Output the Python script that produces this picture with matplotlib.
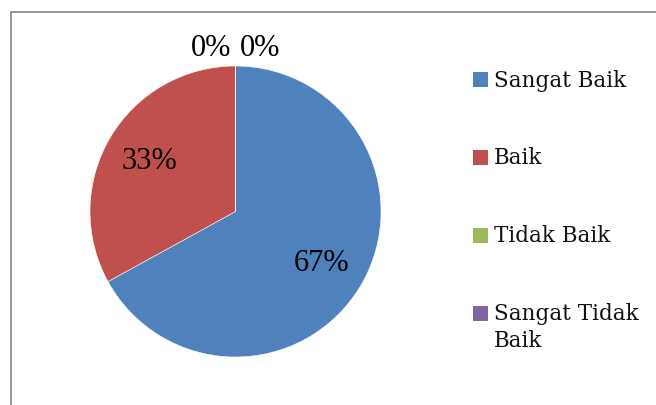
import matplotlib
matplotlib.use("Agg")
import matplotlib.pyplot as plt
from matplotlib.patches import Rectangle
import textwrap

categories = ["Sangat Baik", "Baik", "Tidak Baik", "Sangat Tidak Baik"]
values = [67, 33, 0, 0]
colors = ["#4F81BD", "#C0504D", "#9BBB59", "#8064A2"]

W, H = 656, 406
fig = plt.figure(figsize=(W / 100, H / 100), dpi=100)

# pie axes: center (235.5, 212.5) px from top, radius 145.5 px
R = 145.5
cx, cy = 235.5, H - 212.5
lim = 1.4
size = 2 * lim * R
ax = fig.add_axes([(cx - size / 2) / W, (cy - size / 2) / H, size / W, size / H])

wedges, texts, autotexts = ax.pie(
    values, colors=colors, startangle=90, counterclock=False,
    autopct=lambda p: f"{p:.0f}%", pctdistance=0.69,
    wedgeprops=dict(edgecolor="white", linewidth=0.4),
    textprops=dict(family="Liberation Serif", fontsize=22, color="black"),
)
# zero-value labels moved outside above the pie (as in the reference)
zero_offsets = [-0.168, 0.168]
zi = 0
for v, t in zip(values, autotexts):
    if v == 0:
        t.set_position((zero_offsets[zi % 2], 1.13))
        zi += 1
ax.set_xlim(-lim, lim)
ax.set_ylim(-lim, lim)
ax.set_aspect("equal")
ax.axis("off")

# legend drawn manually
leg_x_box = 473
leg_x_text = 494
leg_y0 = 80.5
leg_dy = 78
sq = 15
for i, (cat, col) in enumerate(zip(categories, colors)):
    yc = leg_y0 + i * leg_dy
    fig.patches.append(Rectangle((leg_x_box / W, (H - yc - sq / 2) / H), sq / W, sq / H,
                                 transform=fig.transFigure, facecolor=col, edgecolor="none"))
    label = "\n".join(textwrap.wrap(cat, 12))
    fig.text(leg_x_text / W, (H - yc + 11) / H, label, ha="left", va="top",
             family="DejaVu Serif", fontsize=15.5, color="#111111", linespacing=1.25)

# outer border (only left/top visible)
fig.patches.append(Rectangle((11 / W, -0.1), 1.2, (H - 13) / H + 0.1,
                             transform=fig.transFigure, facecolor="none",
                             edgecolor="#8c8c8c", linewidth=1.3))

fig.savefig("out.png", dpi=100)
